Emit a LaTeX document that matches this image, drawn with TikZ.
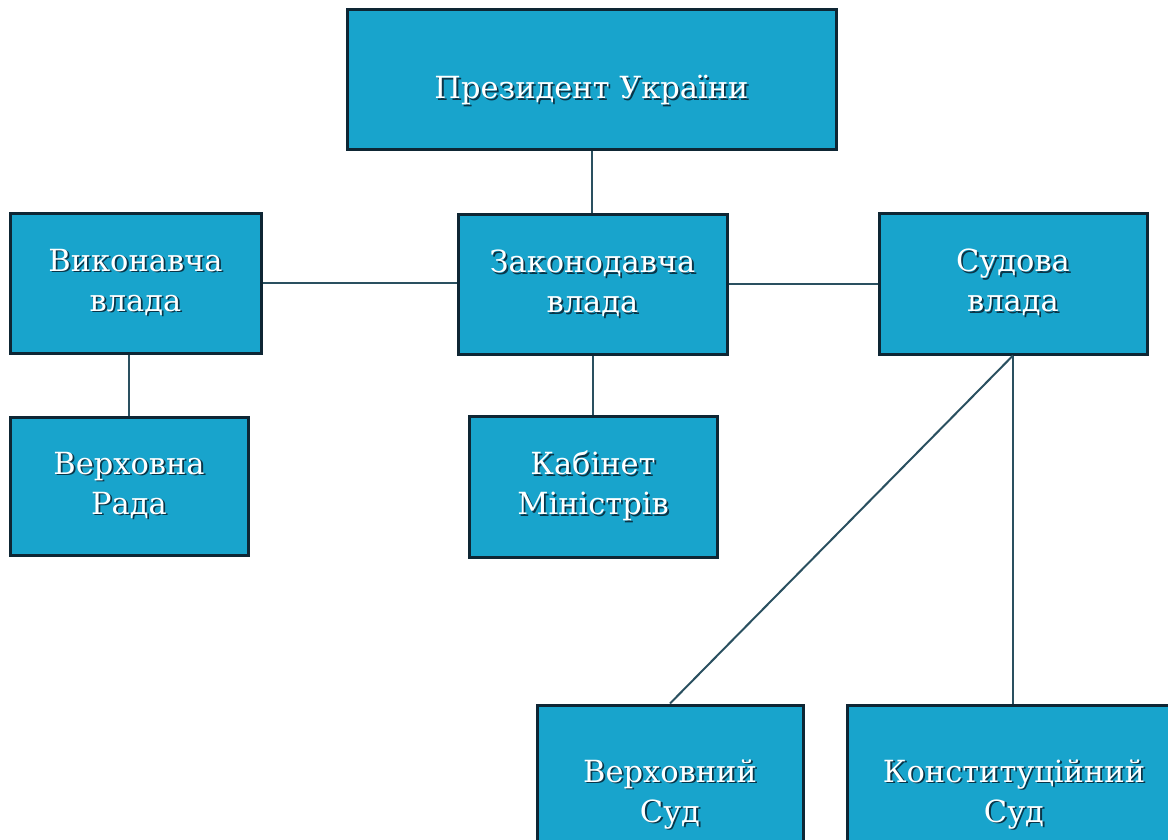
\documentclass[tikz,border=0pt]{standalone}
\usepackage{fontspec}
\setmainfont{DejaVu Serif}
\definecolor{boxfill}{HTML}{18A4CC}
\definecolor{boxedge}{HTML}{0E2634}
\definecolor{linec}{HTML}{2A5060}
\definecolor{shadowc}{HTML}{0A3548}
\newcommand\shd[1]{\rlap{\kern1.8pt\raisebox{-1.8pt}{\textcolor{shadowc}{#1}}}\textcolor{white}{#1}}
\begin{document}
\begin{tikzpicture}[x=1pt,y=-1pt,
  box/.style={rectangle, draw=boxedge, line width=3pt, fill=boxfill, align=center,
    font=\fontsize{30.5}{40}\selectfont, inner sep=0pt},
  conn/.style={draw=linec, line width=2pt}]
\useasboundingbox (0,0) rectangle (1168,840);
\clip (0,0) rectangle (1168,840);
\node[box, minimum width=489pt, minimum height=140pt, text height=38pt, text depth=0pt] (pres) at (591.5,80) {\shd{Президент України}};
\node[box, minimum width=251pt, minimum height=140pt] (vyk) at (135.5,283) {\shd{Виконавча}\\\shd{влада}};
\node[box, minimum width=269pt, minimum height=140pt] (zak) at (592.5,284) {\shd{Законодавча}\\\shd{влада}};
\node[box, minimum width=268pt, minimum height=141pt] (sud) at (1013,283.5) {\shd{Судова}\\\shd{влада}};
\node[box, minimum width=238pt, minimum height=138pt] (rada) at (129,486) {\shd{Верховна}\\\shd{Рада}};
\node[box, minimum width=248pt, minimum height=141pt] (kab) at (593,486.5) {\shd{Кабінет}\\\shd{Міністрів}};
\node[box, minimum width=266pt, minimum height=180pt] (vs) at (670,795) {\shd{Верховний}\\\shd{Суд}};
\node[box, minimum width=334pt, minimum height=180pt] (ks) at (1014,795) {\shd{Конституційний}\\\shd{Суд}};
\draw[conn] (pres.south) -- (pres.south |- zak.north);
\draw[conn] (vyk.east) -- (vyk.east -| zak.west);
\draw[conn] (zak.east) -- (zak.east -| sud.west);
\draw[conn] (rada.north |- vyk.south) -- (rada.north);
\draw[conn] (zak.south) -- (zak.south |- kab.north);
\draw[conn] (sud.south) -- (sud.south |- ks.north);
\draw[conn] (sud.south) -- (vs.north);
\end{tikzpicture}
\end{document}
